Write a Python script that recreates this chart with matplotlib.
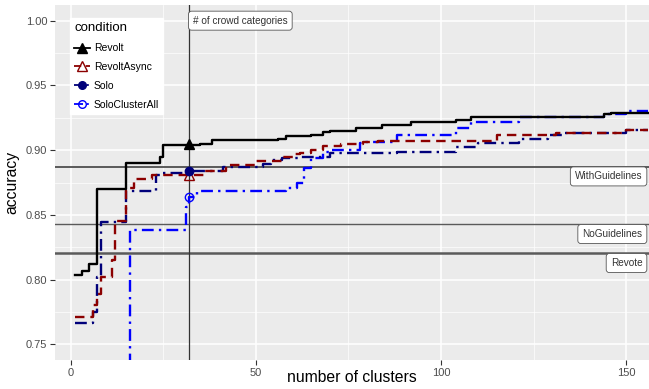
import matplotlib
matplotlib.use("Agg")
import matplotlib.pyplot as plt
from matplotlib.lines import Line2D

plt.rcParams['font.family'] = ['Liberation Sans', 'DejaVu Sans']

# ---- data ----
conditions = ["Revolt", "RevoltAsync", "Solo", "SoloClusterAll"]
x_end = 156

revolt_x = [1, 3, 5, 7, 15, 24, 25, 35, 38, 56, 58, 65, 68, 70, 77, 84, 92, 104, 108, 144, 146]
revolt_y = [0.8035, 0.807, 0.812, 0.870, 0.8898, 0.8949, 0.904, 0.905, 0.9075, 0.9086, 0.911,
            0.9117, 0.9142, 0.915, 0.9173, 0.9194, 0.922, 0.9235, 0.9253, 0.9279, 0.929]

async_x = [1, 6, 7, 8, 11, 12, 15, 17, 22, 32, 36, 42, 50, 57, 60, 62, 65, 68, 73, 79, 83, 115, 131, 150]
async_y = [0.771, 0.780, 0.789, 0.802, 0.815, 0.845, 0.8705, 0.8775, 0.8808, 0.881, 0.884, 0.8885,
           0.8918, 0.8949, 0.8967, 0.8975, 0.900, 0.9034, 0.9045, 0.9065, 0.907, 0.9117, 0.913, 0.9155]

solo_x = [1, 6, 7, 8, 15, 23, 24, 32, 41, 52, 54, 57, 62, 70, 88, 104, 110, 121, 129, 133, 150]
solo_y = [0.7666, 0.775, 0.802, 0.8446, 0.8686, 0.8808, 0.882, 0.884, 0.8872, 0.8893, 0.892,
          0.8937, 0.895, 0.8975, 0.8988, 0.9026, 0.9057, 0.9083, 0.9117, 0.913, 0.9155]

sca_x = [1, 16, 31, 32, 34, 58, 61, 63, 65, 68, 70, 78, 79, 88, 104, 108, 121, 144, 150]
sca_y = [0.700, 0.838, 0.8563, 0.8635, 0.8686, 0.8705, 0.8743, 0.886, 0.8937, 0.8988, 0.900,
         0.9052, 0.9065, 0.9117, 0.9168, 0.922, 0.9258, 0.928, 0.9304]

marker_x = 32
marker_y = [0.9045, 0.8808, 0.884, 0.8635]

ref_names = ["WithGuidelines", "NoGuidelines", "Revote"]
ref_values = [0.8872, 0.8427, 0.8203]
vline_label = "# of crowd categories"

# ---- styles ----
colors = ["black", "#8B0000", "#00007A", "#0000FF"]
styles = ["-", (0, (4, 2.5)), (0, (5, 2.2, 1, 2.2)), (0, (5, 2.2, 1, 2.2))]
markers = ["^", "^", "o", "o"]
mfill = [True, False, True, False]

fig = plt.figure(figsize=(6.49, 3.89), dpi=100)
ax = fig.add_axes([55/649, 1 - 360/389, 1 - 55/649, 355/389])
ax.set_facecolor("#EBEBEB")
for s in ax.spines.values():
    s.set_visible(False)

ax.set_xlim(-4.3, 156.2)
ax.set_ylim(0.7379, 1.0121)
ax.set_xticks([0, 50, 100, 150])
ax.set_xticks([25, 75, 125], minor=True)
ax.set_yticks([0.75, 0.80, 0.85, 0.90, 0.95, 1.00])
ax.set_yticks([0.775, 0.825, 0.875, 0.925, 0.975], minor=True)
ax.set_yticklabels(["0.75", "0.80", "0.85", "0.90", "0.95", "1.00"])
ax.grid(which="major", color="white", lw=1.1)
ax.grid(which="minor", color="white", lw=0.5)
ax.set_axisbelow(True)
ax.tick_params(which="major", length=3.5, width=0.8, color="#333333",
               labelsize=8, labelcolor="#4D4D4D", pad=2)
ax.tick_params(which="minor", length=0)

# reference lines
ref_lw = [1.4, 1.0, 1.8]
for v, lw in zip(ref_values, ref_lw):
    ax.axhline(v, color="#5A5A5A", lw=lw, zorder=2)
ax.axvline(marker_x, color="#333333", lw=0.9, zorder=2)

series = [(revolt_x, revolt_y), (async_x, async_y), (solo_x, solo_y), (sca_x, sca_y)]
handles = []
for i, (xs, ys) in enumerate(series):
    ax.step(xs + [x_end], ys + [ys[-1]], where="post", color=colors[i], ls=styles[i],
            lw=1.7, zorder=3 + (3 - i) * 0.1)
    ax.plot([marker_x], [marker_y[i]], marker=markers[i], ms=7 if markers[i] == "^" else 6,
            color=colors[i], mfc=colors[i] if mfill[i] else "none", mew=1.0, zorder=5, ls="none")
    handles.append(Line2D([], [], color=colors[i], ls=styles[i], lw=1.3, marker=markers[i],
                          ms=7 if markers[i] == "^" else 5.5,
                          mfc=colors[i] if mfill[i] else "none", mew=1.0))

# labels
box = dict(boxstyle="round,pad=0.45,rounding_size=0.3", fc="white", ec="#555555", lw=0.6)
ax.text(marker_x + 1.0, 1.000, vline_label, ha="left", va="center", fontsize=7.2,
        color="#333333", bbox=box, zorder=6)
for name, v in zip(ref_names, ref_values):
    ax.text(154.4, v - 0.0075, name, ha="right", va="center", fontsize=7.2,
            color="#333333", bbox=box, zorder=6)

leg = ax.legend(handles, conditions, title="condition", loc="upper left",
                bbox_to_anchor=(0.0253, 0.963), frameon=True, fancybox=False,
                fontsize=7.5, title_fontsize=9.5, handlelength=1.5, handletextpad=0.4,
                labelspacing=0.85, borderpad=0.4, borderaxespad=0)
leg.get_frame().set_facecolor("white")
leg.get_frame().set_edgecolor("white")
leg.get_frame().set_alpha(1)
leg._legend_box.align = "left"
leg.set_zorder(7)

fig.text(12/649, 1 - 182/389, "accuracy", rotation=90, ha="center", va="center", fontsize=11.3)
fig.text(352/649, 1 - 377/389, "number of clusters", ha="center", va="center", fontsize=11.3)

fig.savefig("out.png", dpi=100)
